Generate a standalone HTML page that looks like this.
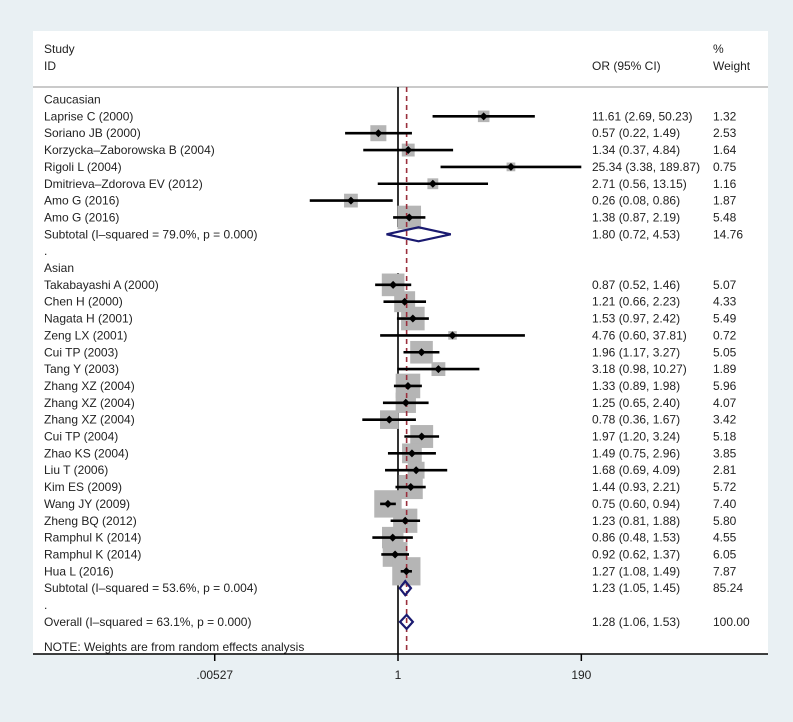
<!DOCTYPE html>
<html><head><meta charset="utf-8"><style>
body{margin:0;background:#e9f0f3;}
svg{display:block;font-family:"Liberation Sans",sans-serif;}
</style></head><body>
<svg id="chart" width="793" height="722" viewBox="0 0 793 722" xmlns="http://www.w3.org/2000/svg">
<rect x="0" y="0" width="793" height="722" fill="#e9f0f3"/>
<rect x="33" y="31" width="735" height="623" fill="#ffffff"/>
<g font-size="12" fill="#222">
<text x="44" y="53">Study</text>
<text x="44" y="70">ID</text>
<text x="592" y="70">OR (95% CI)</text>
<text x="713" y="53">%</text>
<text x="713" y="70">Weight</text>
</g>
<line x1="33" y1="87" x2="768" y2="87" stroke="#aaa" stroke-width="1.2"/>
<g id="rows"></g>
</svg>
<script>
const labels=["Caucasian","Laprise C (2000)","Soriano JB (2000)","Korzycka\u2013Zaborowska B (2004)","Rigoli L (2004)","Dmitrieva\u2013Zdorova EV (2012)","Amo G (2016)","Amo G (2016)","Subtotal  (I\u2013squared = 79.0%, p = 0.000)",".","Asian","Takabayashi A (2000)","Chen H (2000)","Nagata H (2001)","Zeng LX (2001)","Cui TP (2003)","Tang Y (2003)","Zhang XZ (2004)","Zhang XZ (2004)","Zhang XZ (2004)","Cui TP (2004)","Zhao KS (2004)","Liu T (2006)","Kim ES (2009)","Wang JY (2009)","Zheng BQ (2012)","Ramphul K (2014)","Ramphul K (2014)","Hua L (2016)","Subtotal  (I\u2013squared = 53.6%, p = 0.004)",".","Overall  (I\u2013squared = 63.1%, p = 0.000)"];
const kinds=["h","s","s","s","s","s","s","s","d","b","h","s","s","s","s","s","s","s","s","s","s","s","s","s","s","s","s","s","s","d","b","d"];
const orVals=[null,11.61,0.57,1.34,25.34,2.71,0.26,1.38,1.80,null,null,0.87,1.21,1.53,4.76,1.96,3.18,1.33,1.25,0.78,1.97,1.49,1.68,1.44,0.75,1.23,0.86,0.92,1.27,1.23,null,1.28];
const lowVals=[null,2.69,0.22,0.37,3.38,0.56,0.08,0.87,0.72,null,null,0.52,0.66,0.97,0.60,1.17,0.98,0.89,0.65,0.36,1.20,0.75,0.69,0.93,0.60,0.81,0.48,0.62,1.08,1.05,null,1.06];
const highVals=[null,50.23,1.49,4.84,189.87,13.15,0.86,2.19,4.53,null,null,1.46,2.23,2.42,37.81,3.27,10.27,1.98,2.40,1.67,3.24,2.96,4.09,2.21,0.94,1.88,1.53,1.37,1.49,1.45,null,1.53];
const weights=[null,1.32,2.53,1.64,0.75,1.16,1.87,5.48,14.76,null,null,5.07,4.33,5.49,0.72,5.05,1.89,5.96,4.07,3.42,5.18,3.85,2.81,5.72,7.40,5.80,4.55,6.05,7.87,85.24,null,100.00];
const tickVals=[0.00527,1,190];
const tickLabels=[".00527","1","190"];
const overallOR=1.28;

const NS="http://www.w3.org/2000/svg";
const svg=document.getElementById('chart');
const g=document.getElementById('rows');
function xs(v){return 398+34.94*Math.log(v);}
function ys(i){return 99.5+i*16.85;}
function mk(t,a,p){const e=document.createElementNS(NS,t);for(const k in a)e.setAttribute(k,a[k]);(p||g).appendChild(e);return e;}
function fmt(v){return v.toFixed(2);}

// null line (with gap near first subtotal)
const nl1=mk('line',{x1:xs(1),y1:87,x2:xs(1),y2:227,stroke:'#000','stroke-width':1.6});


const nl2=mk('line',{x1:xs(1),y1:273,x2:xs(1),y2:654,stroke:'#000','stroke-width':1.6});



// squares first
labels.forEach((lab,i)=>{
  if(kinds[i]!=='s')return;
  const s=10.06*Math.sqrt(weights[i]);const cx=xs(orVals[i]),cy=ys(i);
  const r=mk('rect',{x:cx-s/2,y:cy-s/2,width:s,height:s,fill:'#b5b5b5'});
  
  
});
// dashed overall line
const dl=mk('line',{x1:xs(overallOR),y1:87,x2:xs(overallOR),y2:654,stroke:'#9a2f3c','stroke-width':1.6,'stroke-dasharray':'5,4'});



labels.forEach((lab,i)=>{
  const y=ys(i);
  const t=mk('text',{x:44,y:y+4,'font-size':12,fill:'#222'});t.textContent=lab;
  
  
  if(orVals[i]==null)return;
  const cx=xs(orVals[i]),lo=xs(lowVals[i]),hi=xs(highVals[i]);
  if(kinds[i]==='s'){
    const l=mk('line',{x1:lo,y1:y,x2:hi,y2:y,stroke:'#000','stroke-width':2.6});
    
    
    const p=mk('polygon',{points:`${cx-4},${y} ${cx},${y-4} ${cx+4},${y} ${cx},${y+4}`,fill:'#000'});
    
    
  } else {
    const p=mk('polygon',{points:`${lo},${y} ${cx},${y-7} ${hi},${y} ${cx},${y+7}`,fill:'none',stroke:'#1a1a70','stroke-width':2.2});
    
    
  }
  const o=mk('text',{x:592,y:y+4,'font-size':12,fill:'#222'});
  o.textContent=`${fmt(orVals[i])} (${fmt(lowVals[i])}, ${fmt(highVals[i])})`;
  
  
  const w=mk('text',{x:713,y:y+4,'font-size':12,fill:'#222'});
  w.textContent=fmt(weights[i]);
  
  
});
const note=mk('text',{x:44,y:651,'font-size':12,fill:'#222'});
note.textContent="NOTE: Weights are from random effects analysis";


const ax=mk('line',{x1:33,y1:654,x2:768,y2:654,stroke:'#000','stroke-width':1.5});


tickVals.forEach((v,i)=>{
  const x=xs(v);
  const tk=mk('line',{x1:x,y1:654,x2:x,y2:661,stroke:'#000','stroke-width':1.5});
  
  
  const tl=mk('text',{x:x,y:679,'font-size':12,fill:'#222','text-anchor':'middle'});
  tl.textContent=tickLabels[i];
  
  
});
</script>
</body></html>
